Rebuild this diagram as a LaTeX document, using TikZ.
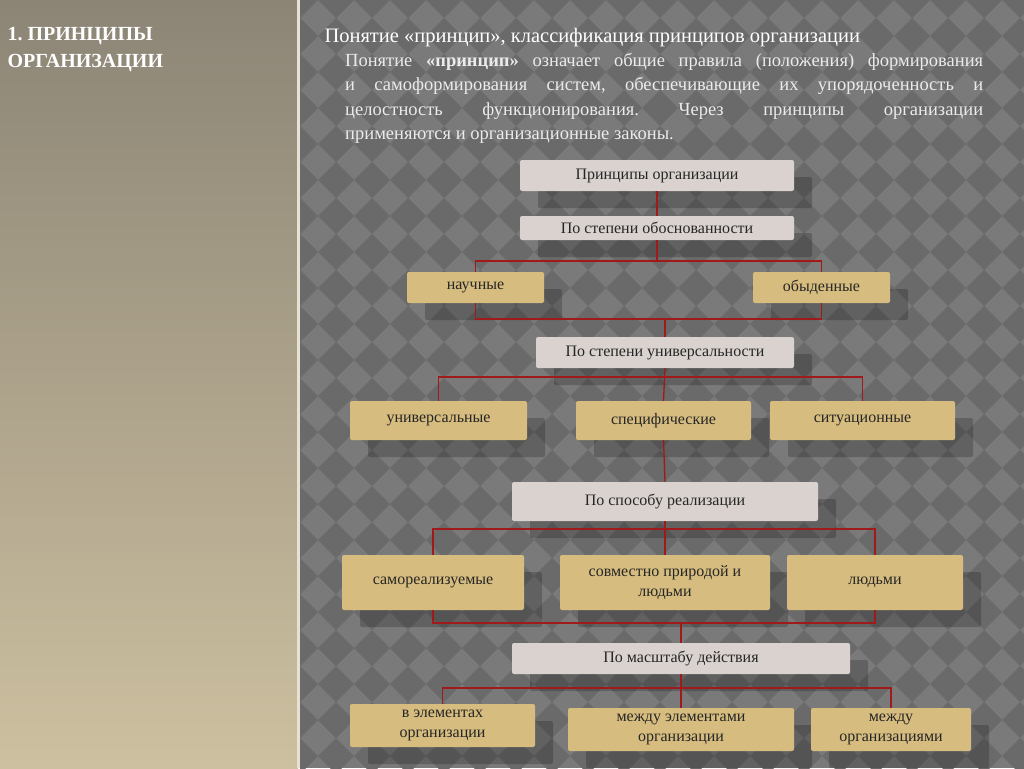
\documentclass[tikz,border=0pt]{standalone}
\usepackage{fontspec}
\setmainfont{Liberation Serif}
\frenchspacing
\begin{document}
\begin{tikzpicture}[x=1pt,y=-1pt,
  lbox/.style={draw=none,fill=boxgrey,rounded corners=2pt,minimum height=#1,align=center,font=\fontsize{16}{18}\selectfont,text=black!85,inner sep=2pt},
  tbox/.style={draw=none,fill=boxtan,rounded corners=2pt,minimum height=#1,align=center,font=\fontsize{16}{20}\selectfont,text=black!85,inner sep=2pt},
  link/.style={draw=linkred,line width=1.3pt}]
\definecolor{boxgrey}{HTML}{D9D2CE}
\definecolor{boxtan}{HTML}{D6BC7E}
\definecolor{linkred}{HTML}{A01A1A}
\definecolor{bgR}{HTML}{7A7A7A}
\definecolor{dia}{HTML}{6A6A6A}
\definecolor{lpTop}{HTML}{8C8576}
\definecolor{lpBot}{HTML}{CDC0A0}
\definecolor{sep}{HTML}{E6E1D2}
\useasboundingbox (0,0) rectangle (1024,768);
% left panel
\shade[top color=lpTop, bottom color=lpBot] (0,0) rectangle (298,768);
\fill[sep] (297,0) rectangle (300,768);
% right pattern
\fill[bgR] (300,0) rectangle (1024,768);
\begin{scope}
\clip (300,0) rectangle (1024,768);
\foreach \i in {0,...,21}{\foreach \j in {0,...,22}{
  \fill[dia] ({300+\i*36},{\j*36-18}) -- ++(18,18) -- ++(-18,18) -- ++(-18,-18) -- cycle;
}}
\end{scope}
% titles
\node[anchor=west,text=white,font=\bfseries\fontsize{20}{27}\selectfont,align=left] (lt) at (4,50) {1. ПРИНЦИПЫ\\ОРГАНИЗАЦИИ};
\node[anchor=west,text=white,font=\fontsize{20.5}{22}\selectfont] (rt) at (321,38) {Понятие «принцип», классификация принципов организации};
\node[anchor=north west,text=white!92!black,font=\fontsize{18.5}{24.5}\selectfont,text width=638pt,align=justify,inner sep=0pt] (para) at (345,53) {Понятие \textbf{«принцип»} означает общие правила (положения) формирования\linebreak и самоформирования систем, обеспечивающие их упорядоченность и\linebreak целостность функционирования. Через принципы организации\linebreak применяются и организационные законы.};
% shadows
\foreach \a/\b/\c/\d in {520/159/794/190, 520/215/794/239, 407/271/544/302, 753/271/890/302, 536/336/794/367, 350/400/527/439, 576/400/751/439, 770/400/955/439, 512/481/818/520, 342/554/524/609, 560/554/770/609, 787/554/963/609, 512/642/850/673, 350/703/535/746, 568/707/794/750, 811/707/971/750}
  \fill[black,opacity=0.2,rounded corners=2pt] (\a+18,\b+18) rectangle (\c+18,\d+18);
% nodes
\node[lbox=31pt,minimum width=274pt] (p0) at (657,175.5) {Принципы организации};
\node[lbox=24pt,minimum width=274pt] (p1) at (657,228) {По степени обоснованности};
\node[tbox=31pt,minimum width=137pt] (n1) at (475.5,287.5) {научные};
\node[tbox=31pt,minimum width=137pt] (n2) at (821.5,287.5) {обыденные};
\node[lbox=31pt,minimum width=258pt] (p2) at (665,352.5) {По степени универсальности};
\node[tbox=39pt,minimum width=177pt] (u1) at (438.5,420.5) {универсальные};
\node[tbox=39pt,minimum width=175pt] (u2) at (663.5,420.5) {специфические};
\node[tbox=39pt,minimum width=185pt] (u3) at (862.5,420.5) {ситуационные};
\node[lbox=39pt,minimum width=306pt] (p3) at (665,501.5) {По способу реализации};
\node[tbox=55pt,minimum width=182pt] (s1) at (433,582.5) {самореализуемые};
\node[tbox=55pt,minimum width=210pt] (s2) at (665,582.5) {совместно природой и\\людьми};
\node[tbox=55pt,minimum width=176pt] (s3) at (875,582.5) {людьми};
\node[lbox=31pt,minimum width=338pt] (p4) at (681,658.5) {По масштабу действия};
\node[tbox=43pt,minimum width=185pt] (m1) at (442.5,725.5) {в элементах\\организации};
\node[tbox=43pt,minimum width=226pt] (m2) at (681,729.5) {между элементами\\организации};
\node[tbox=43pt,minimum width=160pt] (m3) at (891,729.5) {между\\организациями};
% links
\coordinate (h1) at (657,261);
\draw[link] (p0.south) -- (p1.north);
\draw[link] (p1.south) -- (h1);
\draw[link] (n1.north) |- (h1) -| (n2.north);
\coordinate (h2) at (665,319);
\draw[link] (n1.south) |- (h2) -| (n2.south);
\draw[link] (h2) -- (p2.north);
\coordinate (h3) at (665,377);
\draw[link] (p2.south) -- (u2.north);
\draw[link] (u1.north) |- (h3) -| (u3.north);
\draw[link] (u2.south) -- (p3.north);
\coordinate (h4) at (665,529);
\draw[link] (p3.south) -- (s2.north);
\draw[link] (s1.north) |- (h4) -| (s3.north);
\coordinate (h5) at (681,623);
\draw[link] (s1.south) |- (h5) -| (s3.south);
\draw[link] (h5) -- (p4.north);
\coordinate (h6) at (681,688);
\draw[link] (p4.south) -- (m2.north);
\draw[link] (m1.north) |- (h6) -| (m3.north);
\end{tikzpicture}
\end{document}
